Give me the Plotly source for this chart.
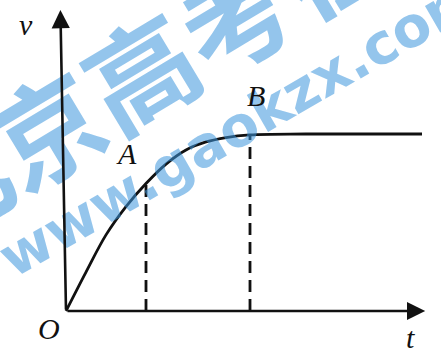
import plotly.graph_objects as go

# v-t curve (arbitrary units)
t_curve = [0, 0.5, 1.0, 1.5, 2.0, 2.5, 3.0, 3.5, 4.0, 4.6, 6.0, 8.9]
v_curve = [0, 0.22, 0.43, 0.59, 0.72, 0.83, 0.91, 0.955, 0.98, 0.995, 1.0, 1.0]

point_names = ["A", "B"]
point_t = [2.0, 4.6]
point_v = [0.72, 0.995]

t_axis_end = 8.98
v_axis_end = 1.70
v_axis_tip_t = -0.14

fig = go.Figure()

fig.add_trace(go.Scatter(x=t_curve, y=v_curve, mode="lines",
                         line=dict(color="#111", width=2.8, shape="spline", smoothing=1.0),
                         hoverinfo="skip"))
for tp, vp in zip(point_t, point_v):
    fig.add_trace(go.Scatter(x=[tp, tp], y=[0, vp], mode="lines",
                             line=dict(color="#111", width=2.8, dash="12px,7px"),
                             hoverinfo="skip"))

# watermark
wm = "rgba(60,150,220,0.55)"
fig.add_annotation(xref="x", yref="y", x=3.0, y=1.53, text="<b>北京高考在线</b>", showarrow=False,
                   textangle=-31, font=dict(family="Noto Sans CJK SC", size=110, color=wm))
fig.add_annotation(xref="x", yref="y", x=4.35, y=1.05, text="<b>www.gaokzx.com</b>", showarrow=False,
                   textangle=-30, font=dict(family="DejaVu Sans", size=56, color=wm))

# axes with arrows
fig.add_annotation(x=t_axis_end, y=0, ax=0, ay=0, xref="x", yref="y", axref="x", ayref="y",
                   showarrow=True, arrowhead=2, arrowsize=1.4, arrowwidth=2.6, arrowcolor="#111", text="")
fig.add_annotation(x=v_axis_tip_t, y=v_axis_end, ax=0, ay=0, xref="x", yref="y", axref="x", ayref="y",
                   showarrow=True, arrowhead=2, arrowsize=1.4, arrowwidth=2.6, arrowcolor="#111", text="")

lab_font = dict(family="Liberation Serif", size=30, color="#111")
fig.add_annotation(x=-1.0, y=1.62, text="<i>v</i>", showarrow=False, font=lab_font)
fig.add_annotation(x=-0.42, y=-0.1, text="<i>O</i>", showarrow=False, font=lab_font)
fig.add_annotation(x=8.6, y=-0.15, text="<i>t</i>", showarrow=False, font=lab_font)
fig.add_annotation(x=point_t[0] - 0.5, y=point_v[0] + 0.17, text="<i>" + point_names[0] + "</i>", showarrow=False, font=lab_font)
fig.add_annotation(x=point_t[1] + 0.15, y=point_v[1] + 0.22, text="<i>" + point_names[1] + "</i>", showarrow=False, font=lab_font)

fig.update_layout(width=441, height=355, margin=dict(l=0, r=0, t=0, b=0),
                  paper_bgcolor="white", plot_bgcolor="white", showlegend=False,
                  xaxis=dict(range=[-1.65, 9.375], visible=False),
                  yaxis=dict(range=[-0.2486, 1.757], visible=False))

fig.write_html("out.html", config={"displayModeBar": False},
               post_script="document.body.style.margin='0px';document.body.style.overflow='hidden';")
